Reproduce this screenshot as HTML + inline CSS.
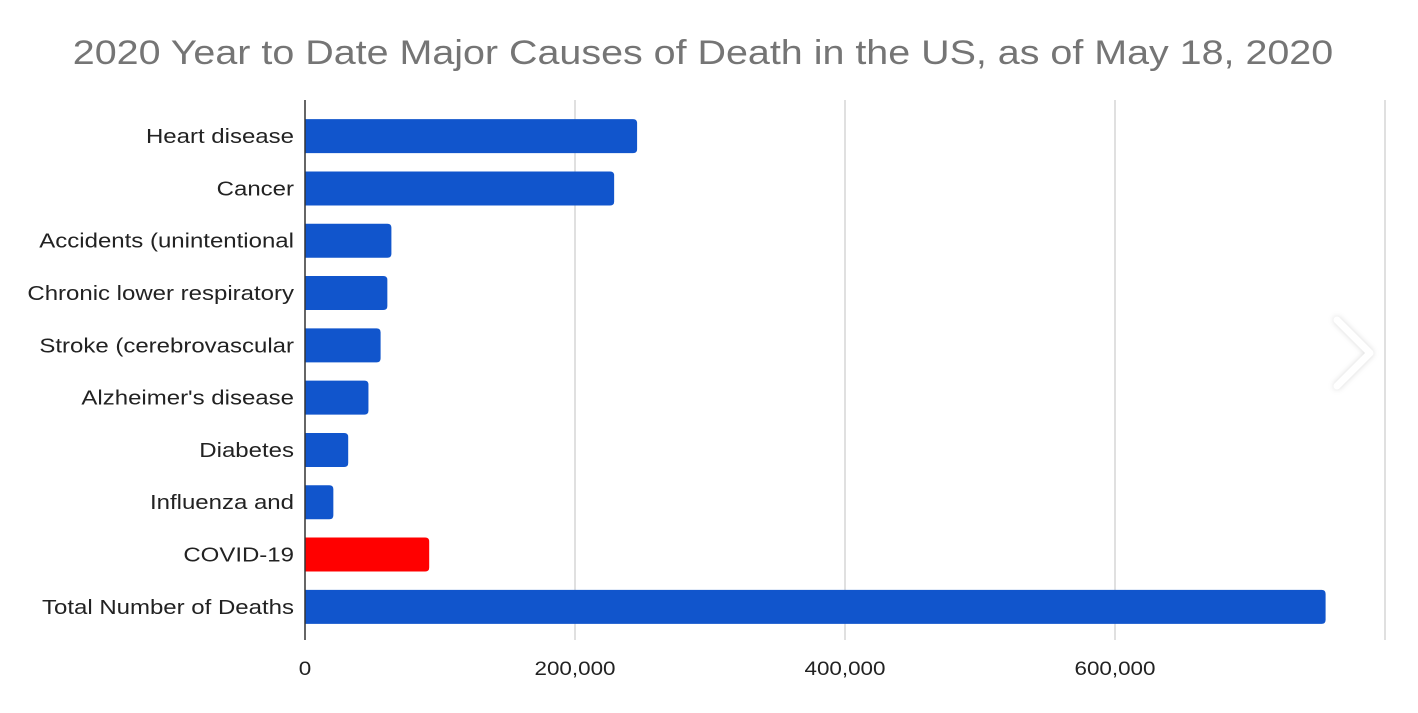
<!DOCTYPE html>
<html><head><meta charset="utf-8"><style>
body{margin:0;background:#fff;}
svg text{font-family:"Liberation Sans",Arial,sans-serif;}
</style></head><body>
<svg id="chart" width="1418" height="708">
<text x="703" y="64" text-anchor="middle" font-size="34" fill="#757575" transform="translate(703,0) scale(1.16,1) translate(-703,0)">2020 Year to Date Major Causes of Death in the US, as of May 18, 2020</text>
<g id="grid"></g><g id="bars"></g><g id="labels"></g>
<line x1="305" y1="100" x2="305" y2="640" stroke="#333" stroke-width="1.5"/>
<path d="M1337 320 L1370 353 L1337 386" fill="none" stroke="#fff" stroke-width="7" stroke-linecap="round" stroke-linejoin="round" style="filter:drop-shadow(0 0 3px rgba(0,0,0,0.15))"/>
</svg>
<script>
const categories=["Heart disease","Cancer","Accidents (unintentional","Chronic lower respiratory","Stroke (cerebrovascular","Alzheimer's disease","Diabetes","Influenza and","COVID-19","Total Number of Deaths"];
const values=[246000,229000,64000,61000,56000,47000,32000,21000,92000,756000];
const highlight=[false,false,false,false,false,false,false,false,true,false];
const ticks=[0,200000,400000,600000,800000];
const tickLabels=["0","200,000","400,000","600,000",""];
const NS="http://www.w3.org/2000/svg";
const x0=305,pxPer=270/200000,top0=110,band=52.3,bh=34;
const xs=v=>x0+v*pxPer;
const grid=document.getElementById('grid'),bars=document.getElementById('bars'),labels=document.getElementById('labels');
ticks.forEach((t,i)=>{
 if(t>0){const l=document.createElementNS(NS,'line');
 l.setAttribute('x1',xs(t));l.setAttribute('x2',xs(t));l.setAttribute('y1',100);l.setAttribute('y2',640);
 l.setAttribute('stroke','#cccccc');l.setAttribute('stroke-width','1.2');
 
 
 grid.appendChild(l);}
 const tx=document.createElementNS(NS,'text');
 const X=xs(t);
 tx.setAttribute('x',X);tx.setAttribute('y',675);tx.setAttribute('text-anchor','middle');tx.setAttribute('font-size','19');tx.setAttribute('fill','#222');
 tx.setAttribute('transform',`translate(${X},0) scale(1.18,1) translate(${-X},0)`);
 tx.textContent=tickLabels[i];
 
 
 labels.appendChild(tx);
});
categories.forEach((c,i)=>{
 const cy=top0+band*i+band/2;
 const w=xs(values[i])-x0;
 const p=document.createElementNS(NS,'path');
 const r=Math.min(4,w/2),y=cy-bh/2;
 p.setAttribute('d',`M${x0} ${y} H${x0+w-r} Q${x0+w} ${y} ${x0+w} ${y+r} V${y+bh-r} Q${x0+w} ${y+bh} ${x0+w-r} ${y+bh} H${x0} Z`);
 p.setAttribute('fill',highlight[i]?'#ff0000':'#1155cc');
 
 
 bars.appendChild(p);
 const t=document.createElementNS(NS,'text');
 t.setAttribute('x',294);t.setAttribute('y',cy+7);t.setAttribute('text-anchor','end');t.setAttribute('font-size','20');t.setAttribute('fill','#222');
 t.setAttribute('transform','translate(294,0) scale(1.2,1) translate(-294,0)');
 t.textContent=c;
 
 
 labels.appendChild(t);
});
</script>
</body></html>
